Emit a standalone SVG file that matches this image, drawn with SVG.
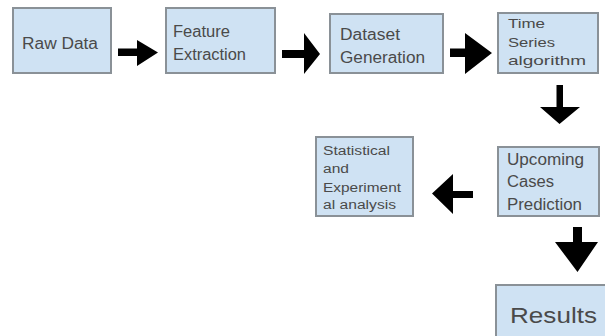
<svg xmlns="http://www.w3.org/2000/svg" width="605" height="336" viewBox="0 0 605 336">
<style>
.box{fill:#cfe2f3;stroke:#8a9197;stroke-width:2}
.t{font-family:"Liberation Sans",Arial,sans-serif;fill:#4a4a4a}
.arr{fill:#000}
</style>
<rect width="605" height="336" fill="#fff"/>
<g id="raw-data">
<rect class="box" x="13" y="8" width="98" height="65"/>
<text class="t" x="22" y="49" font-size="16" textLength="76" lengthAdjust="spacingAndGlyphs">Raw Data</text>
</g>
<g id="feature-extraction">
<rect class="box" x="166" y="8" width="109" height="65"/>
<text class="t" font-size="16"><tspan x="173" y="37" textLength="57" lengthAdjust="spacingAndGlyphs">Feature</tspan><tspan x="173" y="60" textLength="73" lengthAdjust="spacingAndGlyphs">Extraction</tspan></text>
</g>
<g id="dataset-generation">
<rect class="box" x="330" y="14" width="113" height="59"/>
<text class="t" font-size="16"><tspan x="340" y="40" textLength="60" lengthAdjust="spacingAndGlyphs">Dataset</tspan><tspan x="340" y="63" textLength="85" lengthAdjust="spacingAndGlyphs">Generation</tspan></text>
</g>
<g id="time-series">
<rect class="box" x="498" y="13" width="100" height="60"/>
<text class="t" font-size="13"><tspan x="508" y="28" textLength="37" lengthAdjust="spacingAndGlyphs">Time</tspan><tspan x="508" y="47" textLength="47" lengthAdjust="spacingAndGlyphs">Series</tspan><tspan x="508" y="65" textLength="78" lengthAdjust="spacingAndGlyphs">algorithm</tspan></text>
</g>
<g id="upcoming-cases">
<rect class="box" x="498" y="147" width="101" height="69"/>
<text class="t" font-size="16"><tspan x="507" y="165" textLength="77" lengthAdjust="spacingAndGlyphs">Upcoming</tspan><tspan x="507" y="187" textLength="47" lengthAdjust="spacingAndGlyphs">Cases</tspan><tspan x="507" y="210" textLength="75" lengthAdjust="spacingAndGlyphs">Prediction</tspan></text>
</g>
<g id="statistical-analysis">
<rect class="box" x="316" y="137" width="97" height="79"/>
<text class="t" font-size="12"><tspan x="323" y="155" textLength="67" lengthAdjust="spacingAndGlyphs">Statistical</tspan><tspan x="323" y="173" textLength="26" lengthAdjust="spacingAndGlyphs">and</tspan><tspan x="323" y="192" textLength="78" lengthAdjust="spacingAndGlyphs">Experiment</tspan><tspan x="323" y="209" textLength="73" lengthAdjust="spacingAndGlyphs">al analysis</tspan></text>
</g>
<g id="results">
<rect class="box" x="496" y="285" width="125" height="60"/>
<text class="t" x="510" y="323" font-size="22" textLength="87" lengthAdjust="spacingAndGlyphs">Results</text>
</g>
<g id="connectors">
<polygon class="arr" points="118,48.5 137,48.5 137,40 158,52.5 137,66 137,56 118,56"/>
<polygon class="arr" points="282,50 304,50 304,33 320,54 304,74 304,58 282,58"/>
<polygon class="arr" points="450,48.5 465,48.5 465,33 492,53 465,74 465,57 450,57"/>
<polygon class="arr" points="556.5,85 563,85 563,107 580,107 559.5,124 540,107 556.5,107"/>
<polygon class="arr" points="473,191 453,191 453,174 432,193.5 453,214 453,198 473,198"/>
<polygon class="arr" points="573,227 582,227 582,242 598,242 577.5,272 555,242 573,242"/>
</g>
</svg>
